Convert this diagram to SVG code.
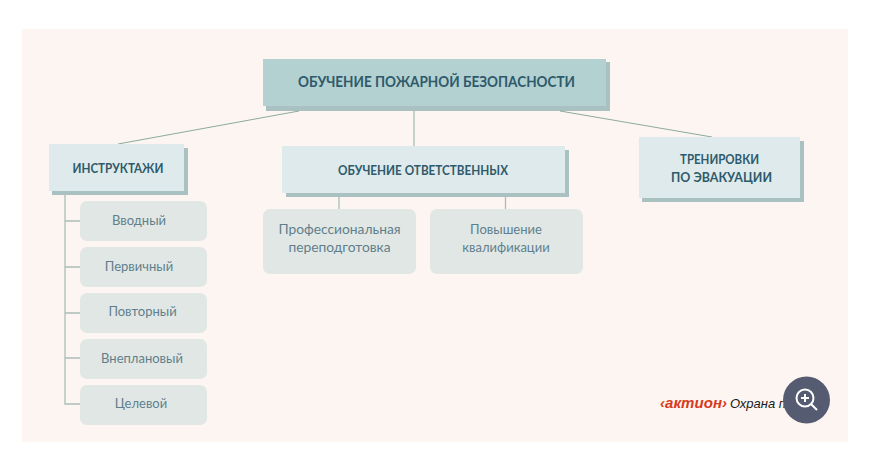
<svg xmlns="http://www.w3.org/2000/svg" width="874" height="474" viewBox="0 0 874 474">
<style>
.h{font-family:"Lato","Noto Sans",sans-serif;font-weight:700;fill:#2f5a6b;text-anchor:middle;font-size:13.200px}
.r{font-size:14.500px}
.t{font-family:"Lato","Noto Sans",sans-serif;fill:#5f7f8c;text-anchor:middle;font-size:13px}
.w{font-size:13.800px}
.shadow{fill:#a9c2c1}
.box{fill:#deeaeb}
.sub{fill:#e1e7e5}
.c{fill:none;stroke:#a9bdb8;stroke-width:1.3}
.d{fill:none;stroke:#8caa9f;stroke-width:1}
</style>
<rect width="874" height="474" fill="#ffffff"/>
<rect x="22" y="29" width="826" height="413" fill="#fdf5f1"/>
<g id="root"><rect class="shadow" x="266" y="62" width="344" height="49"/><rect x="263" y="59" width="343" height="47" fill="#b3d1d1"/><text class="h r" x="436.500" y="87" textLength="277" lengthAdjust="spacingAndGlyphs">ОБУЧЕНИЕ ПОЖАРНОЙ БЕЗОПАСНОСТИ</text></g>
<g id="connectors">
<path class="d" d="M299 111L118 144"/>
<path class="d" d="M560 111L712 137"/>
<path class="c" d="M414 111V146"/>
<path class="c" d="M339 196V209"/>
<path class="c" d="M505.500 196V209"/>
<path class="c" d="M65 193V404H80M65 221H80M65 267H80M65 313H80M65 358H80"/>
</g>
<g id="instr"><rect class="shadow" x="52" y="148" width="136" height="47"/><rect class="box" x="49" y="144" width="135" height="47"/><text class="h" x="118" y="173" textLength="91" lengthAdjust="spacingAndGlyphs">ИНСТРУКТАЖИ</text></g>
<g id="resp"><rect class="shadow" x="286" y="150" width="283" height="47"/><rect class="box" x="282" y="146" width="283" height="47"/><text class="h" x="423" y="175" textLength="170" lengthAdjust="spacingAndGlyphs">ОБУЧЕНИЕ ОТВЕТСТВЕННЫХ</text></g>
<g id="drill"><rect class="shadow" x="642" y="141" width="162" height="61"/><rect class="box" x="639" y="137" width="161" height="61"/><text class="h" x="719.500" y="164" textLength="79" lengthAdjust="spacingAndGlyphs">ТРЕНИРОВКИ</text><text class="h" x="721.500" y="182" textLength="101" lengthAdjust="spacingAndGlyphs">ПО ЭВАКУАЦИИ</text></g>
<g id="n1"><rect class="sub" x="80" y="201" width="127" height="40" rx="7"/><text class="t" x="139" y="225">Вводный</text></g>
<g id="n2"><rect class="sub" x="80" y="247" width="127" height="40" rx="7"/><text class="t" x="139" y="271">Первичный</text></g>
<g id="n3"><rect class="sub" x="80" y="293" width="127" height="40" rx="7"/><text class="t" x="142.500" y="316">Повторный</text></g>
<g id="n4"><rect class="sub" x="80" y="339" width="127" height="40" rx="7"/><text class="t" x="142" y="363">Внеплановый</text></g>
<g id="n5"><rect class="sub" x="80" y="385" width="127" height="40" rx="7"/><text class="t" x="141" y="408">Целевой</text></g>
<g id="p1"><rect class="sub" x="263" y="209" width="153" height="65" rx="7"/><text class="t w" x="339.500" y="234">Профессиональная</text><text class="t w" x="339.500" y="252">переподготовка</text></g>
<g id="p2"><rect class="sub" x="430" y="209" width="153" height="65" rx="7"/><text class="t" x="506" y="234">Повышение</text><text class="t" x="506" y="252">квалификации</text></g>
<g id="logo"><text x="660" y="408" font-family="'Liberation Sans',sans-serif" font-weight="700" font-style="italic" font-size="15" textLength="67" lengthAdjust="spacing" fill="#d83a20">‹актион›</text><text x="730" y="408" font-family="'Liberation Sans',sans-serif" font-style="italic" font-size="13" fill="#1a1a1a">Охрана п</text></g>
<g id="zoom"><circle cx="806.500" cy="400" r="23.500" fill="#555b70"/><circle cx="805" cy="398" r="8.500" fill="none" stroke="#fff" stroke-width="2"/><path d="M811 404L817 410M801 398H809M805 394V402" stroke="#fff" stroke-width="2" fill="none"/></g>
</svg>
